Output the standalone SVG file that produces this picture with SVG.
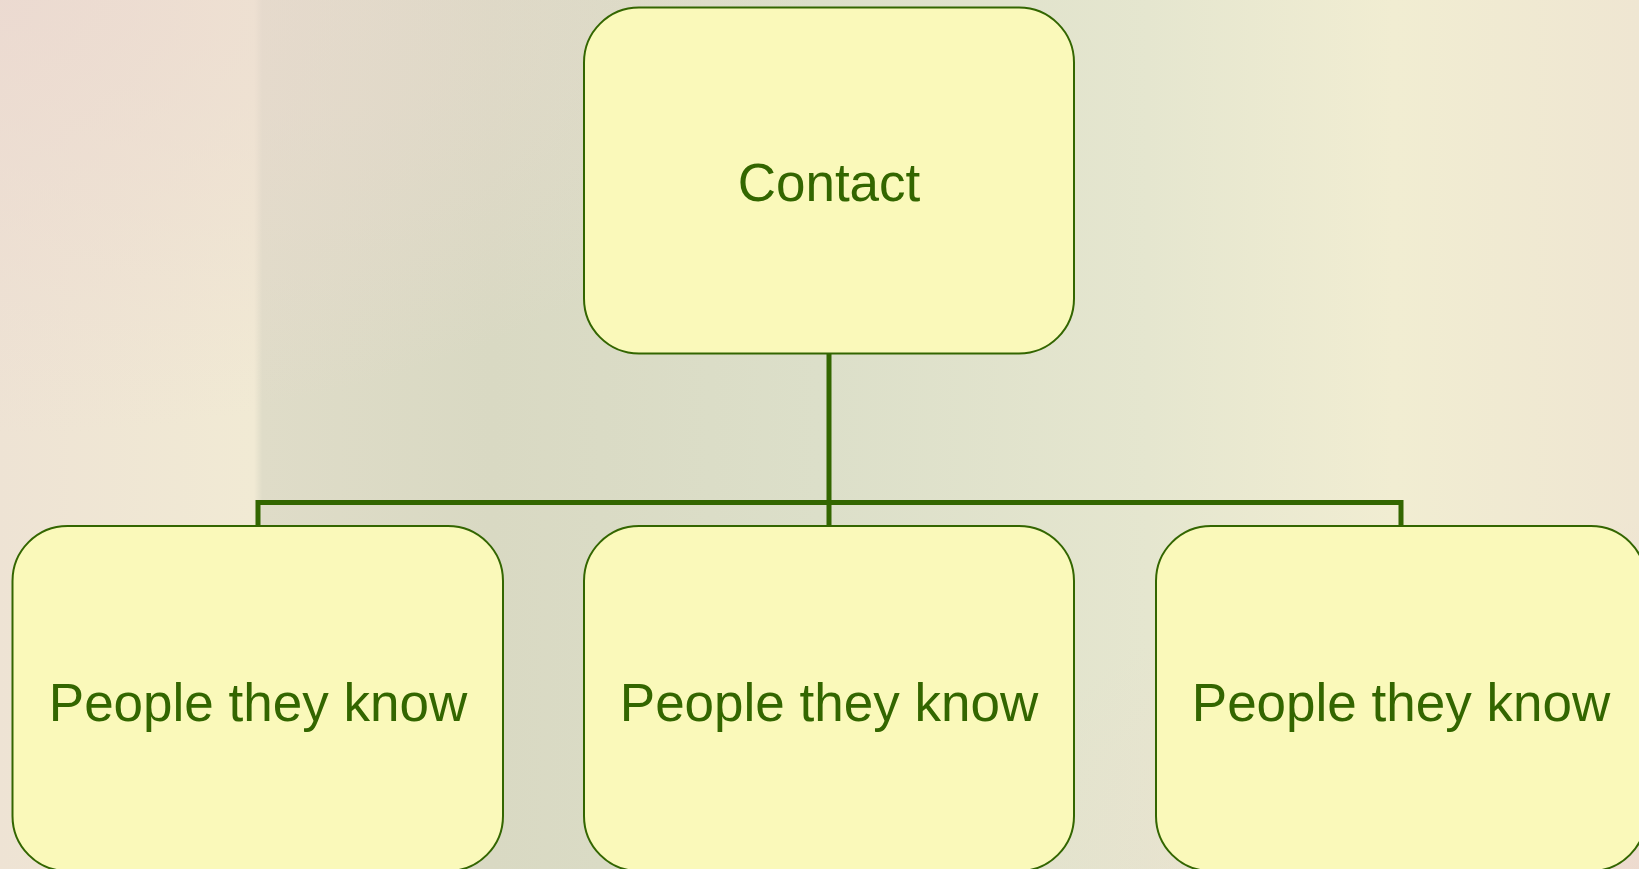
<svg xmlns="http://www.w3.org/2000/svg" width="1639" height="869" viewBox="0 0 1639 869">
<style>
.box{fill:#FAF9BA;stroke:#336600;stroke-width:2}
.lbl{font-family:"Liberation Sans",Arial,sans-serif;font-size:53px;fill:#336600;text-anchor:middle}
.conn{fill:none;stroke:#336600;stroke-width:5}
</style>
<defs>
<linearGradient id="bg" x1="0" y1="0" x2="1" y2="0">
<stop offset="0" stop-color="#EEE3D4"/>
<stop offset="0.155" stop-color="#F1EAD4"/>
<stop offset="0.16" stop-color="#DFDCC8"/>
<stop offset="0.3" stop-color="#D9D9C3"/>
<stop offset="0.5" stop-color="#DCDFC9"/>
<stop offset="0.7" stop-color="#E5E6CF"/>
<stop offset="0.85" stop-color="#F1EDD2"/>
<stop offset="1" stop-color="#EFE6D2"/>
</linearGradient>
<radialGradient id="tl" cx="0" cy="0" r="0.5">
<stop offset="0" stop-color="#EBD8D0" stop-opacity="0.8"/>
<stop offset="1" stop-color="#EBD8D0" stop-opacity="0"/>
</radialGradient>
<radialGradient id="br" cx="1" cy="1" r="0.4">
<stop offset="0" stop-color="#EDD8CE" stop-opacity="0.8"/>
<stop offset="1" stop-color="#EDD8CE" stop-opacity="0"/>
</radialGradient>
</defs>
<rect width="1639" height="869" fill="url(#bg)"/>
<rect width="1639" height="869" fill="url(#tl)"/>
<rect width="1639" height="869" fill="url(#br)"/>
<g id="connectors">
<path class="conn" d="M829 353 V502.5 M258 526 V502.5 H1401 V526 M829 502.5 V526"/>
</g>
<g id="contact">
<rect class="box" x="584" y="7.5" width="490" height="346" rx="55"/>
<text class="lbl" x="829" y="201">Contact</text>
</g>
<g id="people1">
<rect class="box" x="12.5" y="526" width="490.5" height="345" rx="55"/>
<text class="lbl" x="258" y="721">People they know</text>
</g>
<g id="people2">
<rect class="box" x="584" y="526" width="490" height="345" rx="55"/>
<text class="lbl" x="829" y="721">People they know</text>
</g>
<g id="people3">
<rect class="box" x="1156" y="526" width="490" height="345" rx="55"/>
<text class="lbl" x="1401" y="721">People they know</text>
</g>
</svg>
